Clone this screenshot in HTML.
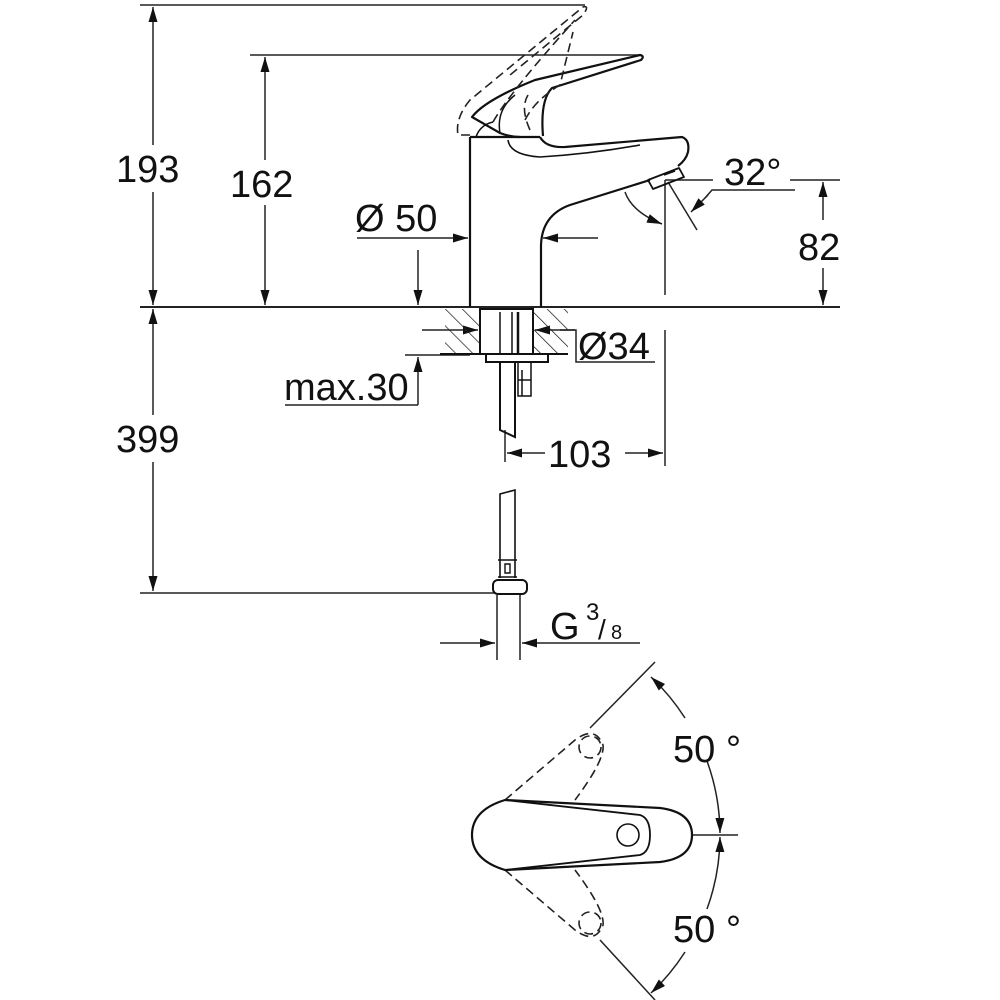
<!DOCTYPE html>
<html><head><meta charset="utf-8"><style>
html,body{margin:0;padding:0;background:#fff;}
svg{display:block;}
text{font-family:"Liberation Sans",Arial,sans-serif;fill:#111;}
</style></head><body>
<svg width="1000" height="1000" viewBox="0 0 1000 1000" xmlns="http://www.w3.org/2000/svg">
<defs>
<marker id="a" viewBox="0 0 10 6" refX="10" refY="3" markerWidth="18" markerHeight="9" markerUnits="userSpaceOnUse" orient="auto"><path d="M0,0 L10,3 L0,6 z" fill="#111"/></marker>
<pattern id="h" width="12" height="12" patternUnits="userSpaceOnUse" patternTransform="rotate(-45)"><line x1="0" y1="0" x2="0" y2="12" stroke="#222" stroke-width="1.5"/></pattern>
</defs>
<g fill="none" stroke="#222" stroke-width="1.5">
<line x1="140" y1="5" x2="585" y2="5"/>
<line x1="250" y1="55" x2="640" y2="55"/>
<line x1="140" y1="307" x2="840" y2="307" stroke-width="2"/>
<line x1="140" y1="593" x2="495" y2="593"/>
<line x1="153" y1="145" x2="153" y2="7" marker-end="url(#a)"/>
<line x1="153" y1="192" x2="153" y2="305" marker-end="url(#a)"/>
<line x1="153" y1="415" x2="153" y2="309" marker-end="url(#a)"/>
<line x1="153" y1="462" x2="153" y2="591" marker-end="url(#a)"/>
<line x1="265" y1="160" x2="265" y2="57" marker-end="url(#a)"/>
<line x1="265" y1="205" x2="265" y2="305" marker-end="url(#a)"/>
<line x1="357" y1="238" x2="468" y2="238" marker-end="url(#a)"/>
<line x1="598" y1="238" x2="543" y2="238" marker-end="url(#a)"/>
<line x1="418" y1="250" x2="418" y2="305" marker-end="url(#a)"/>
<line x1="285" y1="405" x2="418" y2="405"/>
<line x1="418" y1="405" x2="418" y2="357" marker-end="url(#a)"/>
<line x1="405" y1="355" x2="470" y2="355"/>
<line x1="422" y1="330" x2="478" y2="330" marker-end="url(#a)"/>
<line x1="575" y1="330" x2="535" y2="330" marker-end="url(#a)"/>
<polyline points="560,330 576,330 576,362 655,362"/>
<line x1="665" y1="180" x2="665" y2="295"/>
<line x1="665" y1="330" x2="665" y2="466"/>
<line x1="505" y1="430" x2="505" y2="462"/>
<line x1="545" y1="453" x2="507" y2="453" marker-end="url(#a)"/>
<line x1="625" y1="453" x2="663" y2="453" marker-end="url(#a)"/>
<line x1="665" y1="180" x2="713" y2="180"/>
<line x1="790" y1="180" x2="840" y2="180"/>
<line x1="823" y1="220" x2="823" y2="182" marker-end="url(#a)"/>
<line x1="823" y1="268" x2="823" y2="305" marker-end="url(#a)"/>
<line x1="668" y1="182" x2="697" y2="230"/>
<polyline points="795,190 712,190 705,198" />
<line x1="708" y1="195" x2="691" y2="212" marker-end="url(#a)"/>
<path d="M625,192 Q632,212 662,224" marker-end="url(#a)"/>
<line x1="440" y1="643" x2="495" y2="643" marker-end="url(#a)"/>
<line x1="640" y1="643" x2="522" y2="643" marker-end="url(#a)"/>
</g>

<g fill="none" stroke="#111" stroke-width="2.2" stroke-linejoin="round">
<line x1="470" y1="137" x2="470" y2="307"/>
<line x1="470" y1="137" x2="540" y2="137"/>
<path d="M541,307 L541,245 Q542,215 570,205 L650,180"/>
<path d="M540,137 Q546,148 565,147 L682,137 Q690,140 688,152 Q686,160 678,166"/>
<path d="M508,140 Q510,155 540,157 Q590,154 640,145" stroke-width="1.6"/>
<path d="M648,180 L679,168 L684,177 L653,189 Z" stroke-width="1.8"/>
<path d="M664,175 L675,171" stroke-width="1.5"/>
<path d="M543,136 Q540,100 552,88 L641,60 Q645,56 640,55 L535,80 Q485,100 472,117 L500,133 Q510,137 520,137"/>
<path d="M476,137 Q480,125 493,122" stroke-width="1.5"/>
<path d="M500,133 Q496,110 515,95" stroke-width="1.5"/>
</g>
<g fill="none" stroke="#222" stroke-width="1.6" stroke-dasharray="9,5">
<path d="M470,135 L458,135 Q455,118 470,100 L583,7 Q590,5 583,15 L510,75"/>
<path d="M493,122 Q510,92 575,20"/>
<path d="M525,120 Q535,100 560,85 L573,32"/>
<path d="M530,130 Q520,108 528,95"/>
</g>

<g stroke="#111" stroke-width="2">
<rect x="445" y="309" width="35" height="45" fill="url(#h)" stroke="none"/>
<rect x="533" y="309" width="35" height="45" fill="url(#h)" stroke="none"/>
<line x1="440" y1="354" x2="568" y2="354"/>
<rect x="480" y="309" width="53" height="45" fill="#fff"/>
<line x1="500" y1="312" x2="500" y2="354" stroke-width="1.5"/>
<line x1="512" y1="312" x2="512" y2="354" stroke-width="1.5"/>
<line x1="518" y1="312" x2="518" y2="354" stroke-width="2.5"/>
<path d="M486,354 L486,362 L548,362 L548,354" fill="none"/>
<path d="M500,362 L500,430 L515,437 L515,362" fill="none"/>
<path d="M518,362 L518,396 L531,396 L531,362 M518,380 L531,380 M522,370 L522,396" fill="none" stroke-width="1.5"/>
<path d="M500,578 L500,494 L515,490 L515,578" fill="none" stroke-width="1.6"/>
<path d="M498,560 L517,560 M498,577 L517,577 M505,564 L510,564 L510,573 L505,573Z" fill="none" stroke-width="1.4"/>
<rect x="493" y="580" width="34" height="14" rx="5" fill="#fff"/>
<line x1="497" y1="595" x2="497" y2="660" stroke-width="1.4"/>
<line x1="520" y1="595" x2="520" y2="660" stroke-width="1.4"/>
</g>

<g fill="none" stroke="#222" stroke-width="1.5">
<line x1="590" y1="728" x2="655" y2="662"/>
<line x1="600" y1="940" x2="655" y2="1000"/>
<path d="M685,718 A215,215 0 0 0 651,677" marker-end="url(#a)"/>
<path d="M707,761 A215,215 0 0 1 720,833" marker-end="url(#a)"/>
<path d="M707,909 A215,215 0 0 0 720,837" marker-end="url(#a)"/>
<path d="M685,952 A215,215 0 0 1 651,993" marker-end="url(#a)"/>
<line x1="692" y1="835" x2="738" y2="835"/>
</g>
<g fill="none" stroke="#222" stroke-width="1.6" stroke-dasharray="9,5">
<path d="M505,800 L575,740 Q595,725 603,745 Q605,760 575,800"/>
<circle cx="590" cy="747" r="11"/>
<path d="M505,870 L575,930 Q595,945 603,925 Q605,910 575,870"/>
<circle cx="590" cy="923" r="11"/>
</g>
<g fill="none" stroke="#111" stroke-width="2.2">
<path d="M505,800 L660,808 Q692,812 692,835 Q692,858 660,862 L505,870 Q472,860 472,835 Q472,810 505,800 Z"/>
<path d="M505,800 L640,815 Q650,818 650,835 Q650,852 640,855 L505,870" stroke-width="1.8"/>
<circle cx="628" cy="835" r="11" stroke-width="1.6"/>
</g>

<g font-size="38">
<text x="116" y="182">193</text>
<text x="230" y="197">162</text>
<text x="116" y="452">399</text>
<text x="355" y="231">Ø 50</text>
<text x="284" y="400">max.30</text>
<text x="578" y="359">Ø34</text>
<text x="548" y="467">103</text>
<text x="724" y="185">32°</text>
<text x="798" y="260">82</text>
<text x="550" y="639">G</text>
<text x="586" y="620" font-size="24">3</text>
<text x="598" y="639" font-size="28">/</text>
<text x="611" y="639" font-size="20">8</text>
<text x="673" y="762">50 °</text>
<text x="673" y="942">50 °</text>
</g>
</svg>
</body></html>
